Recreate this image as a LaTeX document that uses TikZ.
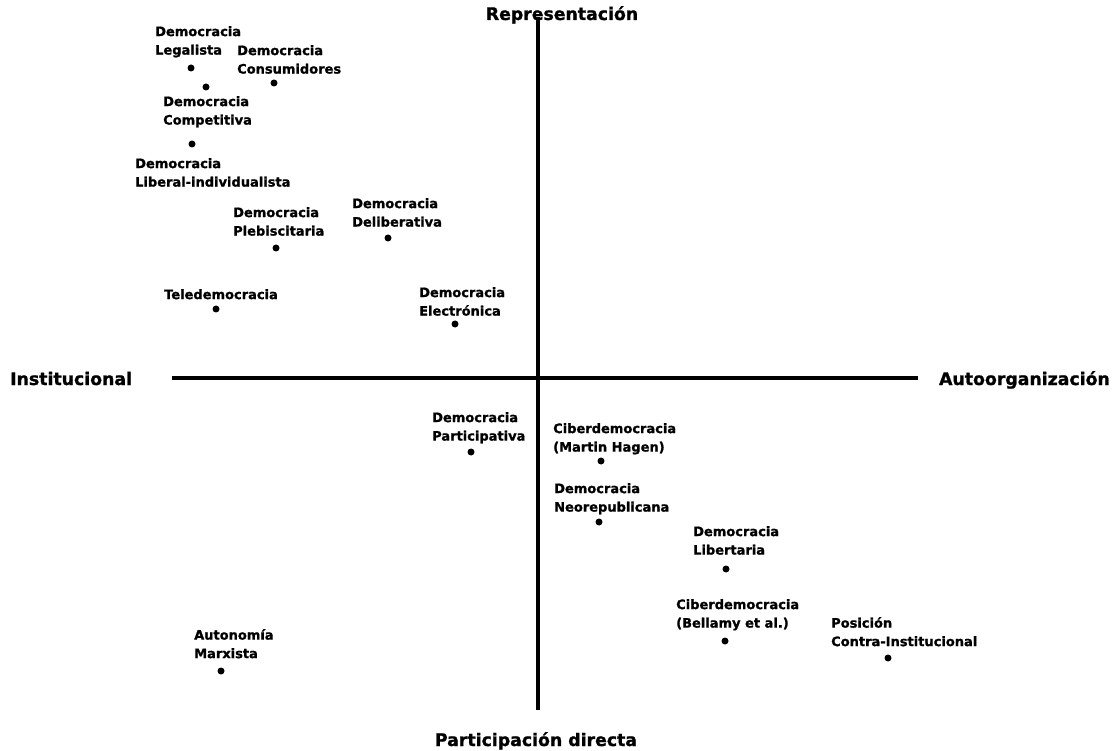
\documentclass[tikz,border=0pt]{standalone}
\usepackage{fontspec}
\setmainfont{DejaVu Sans}[BoldFeatures={FakeBold=1.2}]
\usepackage{tikz}
\usetikzlibrary{positioning, calc}
\tikzstyle{dotpt}=[circle,fill=black,inner sep=0pt,minimum size=7pt]
\tikzstyle{lbl}=[anchor=north west,inner sep=0pt,align=left,font=\fontsize{13}{18.5}\selectfont\bfseries]
\tikzstyle{axislbl}=[inner sep=0pt,font=\fontsize{17.3}{20}\selectfont\bfseries]
\tikzstyle{axisline}=[line width=3.5pt]

\begin{document}
\begin{tikzpicture}[x=1pt,y=-1pt]
        \useasboundingbox (0,0) rectangle (1119,751);
        % axes
        \coordinate (top) at (538,17);
        \coordinate (bot) at (538,710);
        \coordinate (lft) at (172,378);
        \coordinate (rgt) at (918,378);
        \draw[axisline] (top) -- (bot);
        \draw[axisline] (lft) -- (rgt);
        
        \node[axislbl,anchor=base] (repr) at (562,20) {Representación};
        \node[axislbl,anchor=base] (part) at (536,746) {Participación directa};
        \node[axislbl,anchor=base west] (inst) at (10,385) {Institucional};
        \node[axislbl,anchor=base east] (auto) at (1110,385) {Autoorganización};
        
        % points
        \node[dotpt] (legal) at (191,68) {};
        \node[lbl] (legalt) at (155,26) {Democracia\\Legalista};
        \node[dotpt] (consu) at (274,83) {};
        \node[lbl] (consut) at (237,45) {Democracia\\Consumidores};
        \node[dotpt] (compe) at (206,87) {};
        \node[lbl] (compet) at (163,96) {Democracia\\Competitiva};
        \node[dotpt] (liber) at (192,144) {};
        \node[lbl] (libert) at (135,158) {Democracia\\Liberal-individualista};
        \node[dotpt] (plebi) at (276,248) {};
        \node[lbl] (plebit) at (233,207) {Democracia\\Plebiscitaria};
        \node[dotpt] (delib) at (388,238) {};
        \node[lbl] (delibt) at (352,198) {Democracia\\Deliberativa};
        \node[dotpt] (tele) at (216,309) {};
        \node[lbl] (telet) at (164,289) {Teledemocracia};
        \node[dotpt] (elec) at (455,324) {};
        \node[lbl] (elect) at (419,287) {Democracia\\Electrónica};
        \node[dotpt] (parti) at (471,452) {};
        \node[lbl] (partit) at (432,412) {Democracia\\Participativa};
        \node[dotpt] (hagen) at (601,461) {};
        \node[lbl] (hagent) at (553,423) {Ciberdemocracia\\(Martin Hagen)};
        \node[dotpt] (neore) at (599,522) {};
        \node[lbl] (neoret) at (554,483) {Democracia\\Neorepublicana};
        \node[dotpt] (liberta) at (726,569) {};
        \node[lbl] (libertat) at (693,526) {Democracia\\Libertaria};
        \node[dotpt] (bella) at (725,641) {};
        \node[lbl] (bellat) at (676,599) {Ciberdemocracia\\(Bellamy et al.)};
        \node[dotpt] (contra) at (888,658) {};
        \node[lbl] (contrat) at (831,617) {Posición\\Contra-Institucional};
        \node[dotpt] (marx) at (221,671) {};
        \node[lbl] (marxt) at (194,629) {Autonomía\\Marxista};
    \end{tikzpicture}
\end{document}
